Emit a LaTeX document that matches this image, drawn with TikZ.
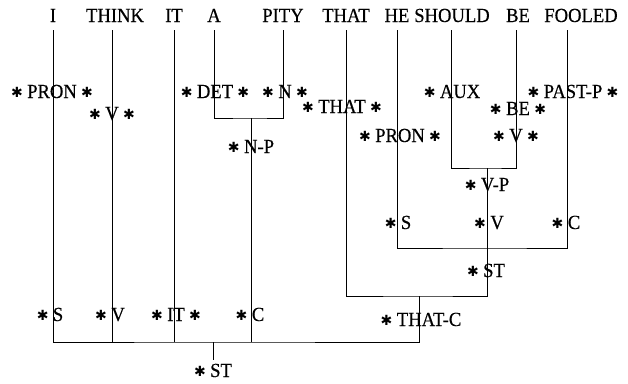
\documentclass[tikz,border=0pt]{standalone}
\usepackage{fontspec}
\setmainfont[FakeStretch=0.93,FakeBold=0.4]{Liberation Serif}
\newfontfamily\starfont{DejaVu Sans}
\newcommand{\sstar}{\raisebox{1pt}{\starfont\fontsize{14}{14}\selectfont ✱}}
\newcommand{\catb}[1]{\sstar\hspace{0.22em}#1\hspace{0.22em}\sstar}
\newcommand{\catl}[1]{\sstar\hspace{0.22em}#1}

\begin{document}
\begin{tikzpicture}[x=1pt,y=-1pt,
    word/.style={anchor=base,inner xsep=0pt,inner ysep=8pt,font=\fontsize{20}{22}\selectfont},
    cat/.style={anchor=base,inner sep=3pt,font=\fontsize{20}{22}\selectfont},
    line width=0.8pt]
  \useasboundingbox (0,0) rectangle (628,383);
  % the sentence
  \node[word] (wI) at (53,22) {I};
  \node[word] (wTHINK) at (115,22) {THINK};
  \node[word] (wIT) at (174,22) {IT};
  \node[word] (wA) at (214,22) {A};
  \node[word] (wPITY) at (283,22) {PITY};
  \node[word] (wTHAT) at (346,22) {THAT};
  \node[word] (wHE) at (397,22) {HE};
  \node[word] (wSHOULD) at (452,22) {SHOULD};
  \node[word] (wBE) at (518,22) {BE};
  \node[word] (wFOOLED) at (581,22) {FOOLED};
  \coordinate (tSH) at (451,30);
  \coordinate (tBE) at (516,30);
  \coordinate (tF) at (567,30);
  % junctions
  \coordinate (jNP) at (251,118);
  \coordinate (jVP) at (487,168);
  \coordinate (jST) at (487,248);
  \coordinate (jTC) at (419,296);
  \coordinate (jRoot) at (213,342);
  % categories
  \node[cat] (lPRON) at (52,98) {\catb{PRON}};
  \node[cat] (lV) at (112,120) {\catb{V}};
  \node[cat] (lDET) at (215,98) {\catb{DET}};
  \node[cat] (lN) at (285,98) {\catb{N}};
  \node[cat] (lNP) at (251,153) {\catl{N-P}};
  \node[cat] (lTHAT) at (342,113) {\catb{THAT}};
  \node[cat] (lPRONb) at (400,142) {\catb{PRON}};
  \node[cat] (lAUX) at (452,98) {\catl{AUX}};
  \node[cat] (lBE) at (518,115) {\catb{BE}};
  \node[cat] (lPASTP) at (573,98) {\catb{PAST-P}};
  \node[cat] (lVb) at (516,142) {\catb{V}};
  \node[cat] (lVP) at (487,191) {\catl{V-P}};
  \node[cat] (lSb) at (398,229) {\catl{S}};
  \node[cat] (lVc) at (489,229) {\catl{V}};
  \node[cat] (lCb) at (566,229) {\catl{C}};
  \node[cat] (lSTb) at (486,277) {\catl{ST}};
  \node[cat] (lTHATC) at (421,326) {\catl{THAT-C}};
  \node[cat] (lS) at (50,321) {\catl{S}};
  \node[cat] (lVd) at (110,321) {\catl{V}};
  \node[cat] (lIT) at (176,321) {\catb{IT}};
  \node[cat] (lC) at (250,321) {\catl{C}};
  \node[cat] (lST) at (213,377) {\catl{ST}};
  % noun phrase
  \draw (wA.south) |- (jNP) -| (wPITY.south);
  % verb phrase
  \draw (tSH) |- (jVP) -| (tBE);
  \draw (jVP) -- (jST);
  % embedded sentence
  \draw (wHE.south) |- (jST) -| (tF);
  \draw (wTHAT.south) |- (jTC) -| (jST);
  % main sentence
  \draw (wI.south) |- (jRoot) -| (jTC);
  \draw (wTHINK.south -| lV) -- (lV |- jRoot);
  \draw (wIT.south) -- (wIT.south |- jRoot);
  \draw (jNP) -- (jNP |- jRoot);
  \draw (jRoot) -- (lST.north);
\end{tikzpicture}
\end{document}
